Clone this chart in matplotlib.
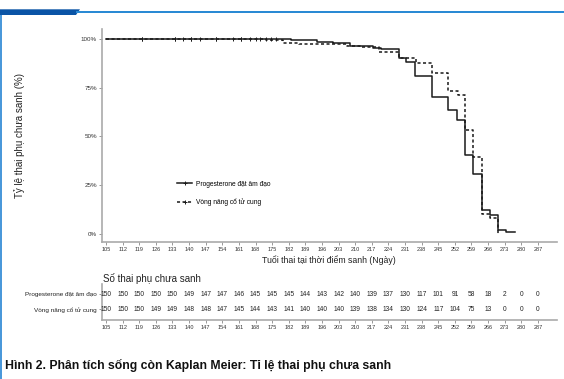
import numpy as np
import matplotlib
matplotlib.use("Agg")
import matplotlib.pyplot as plt
from matplotlib.lines import Line2D
from matplotlib.patches import Polygon, Rectangle

# --- data ---
groups = ["Progesterone đặt âm đạo", "Vòng nâng cổ tử cung"]

# Kaplan-Meier steps (day, % not yet delivered)
prog_t = [105, 183, 193.7, 200.5, 207.8, 217.5, 221, 228.3, 231.6, 235.3, 242.3,
          249.2, 252.8, 256.2, 259.7, 263.4, 266.8, 270.2, 273.5, 277.5]
prog_s = [100, 99.3, 98.5, 97.8, 96.6, 95.5, 94.7, 90.2, 88.4, 80.8, 70.2,
          63.4, 58.3, 40.5, 30.6, 12.3, 9.5, 1.8, 1.1, 1.1]
ring_t = [105, 172.5, 179.5, 186.5, 206.4, 212, 220, 228.4, 235.8, 242.5,
          249.3, 253.5, 256.4, 259.7, 263.4, 266.8, 270.2]
ring_s = [100, 99.3, 98.0, 97.3, 96.6, 96.0, 93.5, 90.5, 87.5, 82.4,
          73.2, 71.5, 53.3, 39.6, 10.0, 8.0, 0]

# censored observations
prog_cens = [120, 134, 137.5, 141, 144.5, 151.5, 158.5, 162, 165.5, 172.5, 174.5, 176.5]
ring_cens = [120, 134, 141, 151.5, 162, 168, 170]

days = list(range(105, 288, 7))
prog_risk = [150, 150, 150, 150, 150, 149, 147, 147, 146, 145, 145, 145, 144, 143,
             142, 140, 139, 137, 130, 117, 101, 91, 58, 18, 2, 0, 0]
ring_risk = [150, 150, 150, 149, 149, 148, 148, 147, 145, 144, 143, 141, 140, 140,
             140, 139, 138, 134, 130, 124, 117, 104, 75, 13, 0, 0, 0]

W, H = 564, 379
plt.rcParams['font.family'] = ['Liberation Sans', 'DejaVu Sans']
fig = plt.figure(figsize=(W / 100, H / 100), dpi=100)


def fx(x):
    return x / W


def fy(y):
    return 1 - y / H


def surv_at(t, ts, ss):
    i = np.searchsorted(ts, t, side='right') - 1
    return ss[max(i, 0)]


# header decoration
fig.patches.append(Polygon([(fx(0), fy(9.3)), (fx(80), fy(9.3)), (fx(76), fy(15)), (fx(0), fy(15))],
                           closed=True, transform=fig.transFigure, facecolor='#0a54a6', edgecolor='none'))
fig.patches.append(Rectangle((fx(76), fy(13.3)), fx(W - 76), 2.6 / H, transform=fig.transFigure,
                             facecolor='#2a8ad4', edgecolor='none'))
fig.patches.append(Rectangle((0, 0), fx(2), fy(15), transform=fig.transFigure,
                             facecolor='#4a98da', edgecolor='none'))

# --- main KM plot ---
ax = fig.add_axes([fx(101.7), fy(241.7), fx(556.7 - 101.7), (241.7 - 29.3) / H])
ax.step(prog_t, prog_s, where='post', color='#1a1a1a', lw=1.1)
ax.step(ring_t, ring_s, where='post', color='#1a1a1a', lw=1.1, ls=(0, (2, 1.6)))
ax.plot(prog_cens, [surv_at(t, prog_t, prog_s) for t in prog_cens], ls='none',
        marker='|', ms=3, mew=0.7, color='#1a1a1a')
ax.plot(ring_cens, [surv_at(t, ring_t, ring_s) for t in ring_cens], ls='none',
        marker='|', ms=3, mew=0.7, color='#1a1a1a')

ax.set_xlim(103.2, 294.9)
ax.set_ylim(-4, 105)
ax.set_xticks(days)
ax.set_xticklabels([str(d) for d in days], fontsize=4, color='#333333')
ax.set_yticks([0, 25, 50, 75, 100])
ax.set_yticklabels(['0%', '25%', '50%', '75%', '100%'], fontsize=4.5, color='#333333')
ax.tick_params(length=2, width=0.6, color='#888888', pad=1.5)
for s in ['top', 'right']:
    ax.spines[s].set_visible(False)
for s in ['left', 'bottom']:
    ax.spines[s].set_color('#aaaaaa')
    ax.spines[s].set_linewidth(1.2)
ax.set_xlabel('Tuổi thai tại thời điểm sanh (Ngày)', fontsize=6.3, color='#222222', labelpad=3)
ax.set_ylabel('Tỷ lệ thai phụ chưa sanh (%)', fontsize=7, color='#222222', labelpad=40)

handles = [Line2D([], [], color='#1a1a1a', lw=1.1, marker='+', ms=3.5, mew=0.7),
           Line2D([], [], color='#1a1a1a', lw=1.1, ls=(0, (2, 1.6)), marker='+', ms=3.5, mew=0.7)]
ax.legend(handles, groups, loc='upper left', bbox_to_anchor=(fx(171 - 101.7) / fx(455), 0.315),
          frameon=False, fontsize=4.8, handlelength=2.3, handletextpad=0.5, labelspacing=1.6)

# --- number at risk table ---
tab = fig.add_axes([fx(101.7), fy(320), fx(556.7 - 101.7), (320 - 284) / H])
tab.set_xlim(103.2, 294.9)
tab.set_ylim(0, 1)
for d, a, b in zip(days, prog_risk, ring_risk):
    tab.text(d, 0.72, str(a), ha='center', va='center', fontsize=4.8, color='#222222')
    tab.text(d, 0.30, str(b), ha='center', va='center', fontsize=4.8, color='#222222')
tab.set_xticks(days)
tab.set_xticklabels([str(d) for d in days], fontsize=4, color='#333333')
tab.set_yticks([0.72, 0.30])
tab.set_yticklabels(groups, fontsize=4.6, color='#222222')
tab.tick_params(length=2, width=0.6, color='#888888', pad=1.5)
for s in ['top', 'right']:
    tab.spines[s].set_visible(False)
for s in ['left', 'bottom']:
    tab.spines[s].set_color('#aaaaaa')
    tab.spines[s].set_linewidth(1.2)

fig.text(fx(103), fy(278), 'Số thai phụ chưa sanh', fontsize=7, color='#222222', va='center')

fig.text(fx(5), fy(365), 'Hình 2. Phân tích sống còn Kaplan Meier: Tỉ lệ thai phụ chưa sanh',
         fontsize=8.8, fontweight='bold', color='#111111', va='center')

fig.savefig('out.png', dpi=100)
